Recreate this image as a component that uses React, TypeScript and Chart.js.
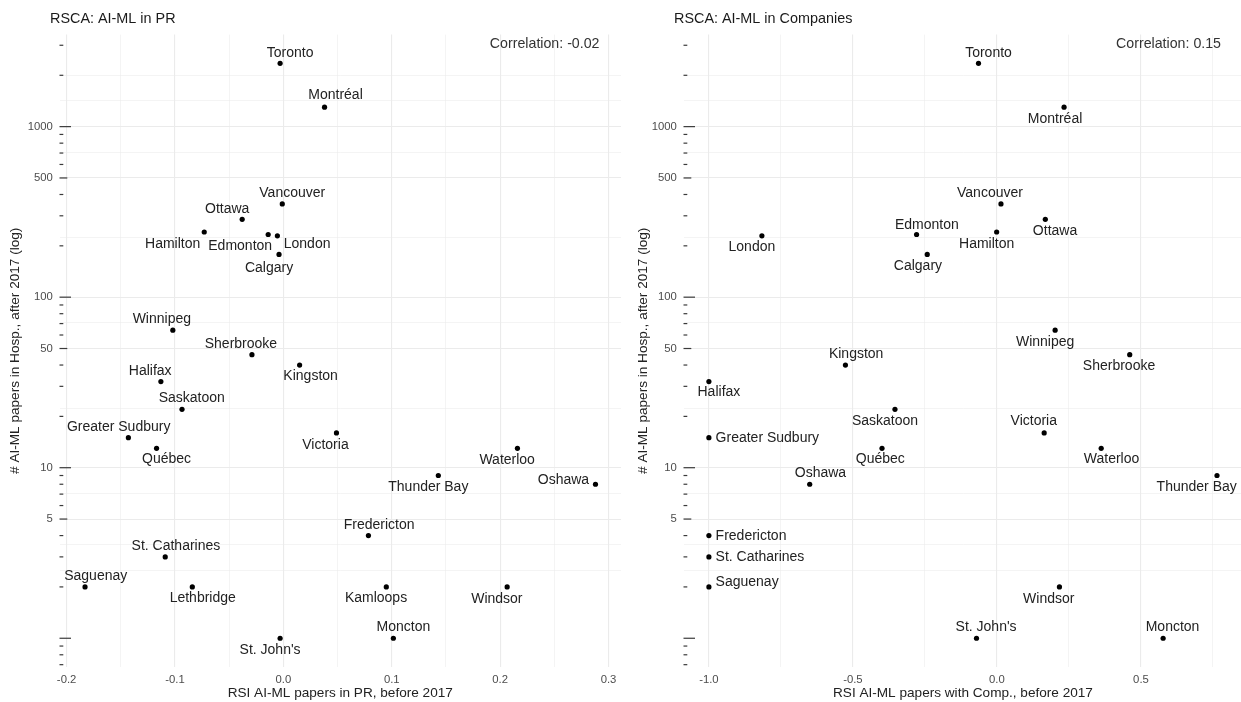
import React, { useEffect, useRef } from 'react';
import { Chart, registerables } from 'chart.js';

Chart.register(...registerables);

// ---------------- data ----------------
const cities = [
  'Toronto', 'Montréal', 'Vancouver', 'Ottawa', 'Hamilton', 'Edmonton', 'London', 'Calgary',
  'Winnipeg', 'Sherbrooke', 'Kingston', 'Halifax', 'Saskatoon', 'Greater Sudbury', 'Québec',
  'Victoria', 'Waterloo', 'Thunder Bay', 'Oshawa', 'Fredericton', 'Kamloops', 'Windsor',
  'Moncton', 'St. Catharines', 'Saguenay', 'Lethbridge', "St. John's",
];
const papersHospAfter2017 = [
  2350, 1300, 352, 286, 241, 233, 229, 178,
  64, 46, 40, 32, 22, 15, 13,
  16, 13, 9, 8, 4, 2, 2,
  1, 3, 2, 2, 1,
];
const rsiPRBefore2017 = [
  -0.003, 0.038, -0.001, -0.038, -0.073, -0.014, -0.0055, -0.004,
  -0.102, -0.029, 0.015, -0.113, -0.0935, -0.143, -0.117,
  0.049, 0.216, 0.143, 0.288, 0.0785, 0.095, 0.2065,
  0.1015, -0.109, -0.183, -0.084, -0.003,
];
const rsiCompBefore2017: (number | null)[] = [
  -0.064, 0.233, 0.014, 0.168, -0.001, -0.279, -0.816, -0.242,
  0.202, 0.461, -0.526, -1.0, -0.354, -1.0, -0.399,
  0.164, 0.362, 0.764, -0.65, -1.0, null, 0.217,
  0.577, -1.0, -1.0, null, -0.071,
];
const correlations = [-0.02, 0.15];
const yMajorBreaks = [5, 10, 50, 100, 500, 1000];
const yMinorBreaks = [2.5, 3.536, 7.071, 22.36, 70.71, 223.6, 707.1, 1414, 2000];
const xMajorPR = [-0.2, -0.1, 0.0, 0.1, 0.2, 0.3];
const xMinorPR = [-0.15, -0.05, 0.05, 0.15, 0.25];
const xMajorComp = [-1.0, -0.5, 0.0, 0.5];
const xMinorComp = [-0.75, -0.25, 0.25, 0.75];

// ---------------- label placement (layout, px offsets from point) ----------------
type Nudge = [number, number, ('center' | 'left')?];
const nudgePR: Record<string, Nudge> = {
  'Toronto': [10, -10], 'Montréal': [11, -11.6], 'Vancouver': [10, -11], 'Ottawa': [-15, -10],
  'Hamilton': [-31.6, 12.3], 'Edmonton': [-28, 12], 'London': [29.7, 8.3], 'Calgary': [-10, 13.4],
  'Winnipeg': [-11, -10.7], 'Sherbrooke': [-11, -10.7], 'Kingston': [11, 11], 'Halifax': [-10.7, -10.6],
  'Saskatoon': [9.7, -11], 'Greater Sudbury': [-9.7, -11], 'Québec': [10, 11], 'Victoria': [-11, 12],
  'Waterloo': [-10.3, 11.7], 'Thunder Bay': [-10, 11.7], 'Oshawa': [-32, -4.4], 'Fredericton': [10.7, -10.7],
  'Kamloops': [-10.3, 11], 'Windsor': [-10.3, 12.4], 'Moncton': [10, -10.7], 'St. Catharines': [10.7, -10.3],
  'Saguenay': [10.7, -10.3], 'Lethbridge': [10.4, 11], "St. John's": [-10, 11.7],
};
const nudgeComp: Record<string, Nudge> = {
  'Toronto': [10, -10], 'Montréal': [-9, 11.7], 'Vancouver': [-11, -10.7], 'Ottawa': [9.7, 11.7],
  'Hamilton': [-10, 11.7], 'Edmonton': [10.3, -9.7], 'Calgary': [-9.3, 11.4], 'London': [-10, 11.7],
  'Winnipeg': [-10, 12], 'Sherbrooke': [-10.7, 11.3], 'Kingston': [10.7, -10.7], 'Halifax': [10, 11],
  'Saskatoon': [-10, 11.7], 'Greater Sudbury': [6.7, 0.7, 'left'], 'Québec': [-1.7, 11],
  'Oshawa': [10.7, -11.4], 'Victoria': [-10.4, -11.6], 'Waterloo': [10.3, 11.3], 'Thunder Bay': [-20.3, 11.7],
  'Fredericton': [6.7, 0.7, 'left'], 'St. Catharines': [6.7, 0, 'left'], 'Saguenay': [6.7, -5, 'left'],
  'Windsor': [-10.7, 12.4], "St. John's": [9.6, -10.7], 'Moncton': [9.4, -10.7],
};

const FONT = '"Liberation Sans", Arial, Helvetica, sans-serif';

interface PanelDef {
  left: number;
  width: number;
  yAxisWidth: number;
  padRight: number;
  title: string;
  titleX: number;
  xTitle: string;
  yTitlePad: number;
  xs: (number | null)[];
  xMajor: number[];
  xMinor: number[];
  corr: number;
  nudge: Record<string, Nudge>;
}

const panels: PanelDef[] = [
  {
    left: 0, width: 630, yAxisWidth: 59.5, padRight: 9,
    title: 'RSCA: AI-ML in PR', titleX: 50,
    xTitle: 'RSI AI-ML papers in PR, before 2017', yTitlePad: 7.3,
    xs: rsiPRBefore2017, xMajor: xMajorPR, xMinor: xMinorPR, corr: correlations[0], nudge: nudgePR,
  },
  {
    left: 621, width: 624, yAxisWidth: 62.5, padRight: 0,
    title: 'RSCA: AI-ML in Companies', titleX: 53,
    xTitle: 'RSI AI-ML papers with Comp., before 2017', yTitlePad: 13.8,
    xs: rsiCompBefore2017, xMajor: xMajorComp, xMinor: xMinorComp, corr: correlations[1], nudge: nudgeComp,
  },
];

function buildConfig(p: PanelDef): any {
  const pts = cities
    .map((c, i) => ({ x: p.xs[i] as number, y: papersHospAfter2017[i], label: c }))
    .filter((d) => d.x !== null && d.x !== undefined);
  const xv = pts.map((d) => d.x);
  const lv = pts.map((d) => Math.log10(d.y));
  const xmin = Math.min(...xv), xmax = Math.max(...xv);
  const xr = xmax - xmin;
  const lmin = Math.min(...lv), lmax = Math.max(...lv);
  const lr = lmax - lmin;

  const xTicks = [...p.xMajor.map((v) => ({ value: v, isMajor: true })), ...p.xMinor.map((v) => ({ value: v, isMajor: false }))]
    .sort((a, b) => a.value - b.value);
  const yTicks = [...yMajorBreaks.map((v) => ({ value: v, isMajor: true })), ...yMinorBreaks.map((v) => ({ value: v, isMajor: false }))]
    .sort((a, b) => a.value - b.value);

  const gridCommon = {
    color: '#ebebeb',
    lineWidth: (ctx: any) => (ctx.tick && ctx.tick.isMajor ? 1.1 : 0.55),
    drawTicks: false,
  };

  const decorPlugin = {
    id: 'decor',
    afterDatasetsDraw(chart: any) {
      const ctx = chart.ctx as CanvasRenderingContext2D;
      const area = chart.chartArea;
      const ys = chart.scales.y;
      const xs = chart.scales.x;
      ctx.save();
      // log ticks inside panel
      ctx.strokeStyle = '#3a3a3a';
      ctx.lineWidth = 1.2;
      for (let k = -1; k <= 4; k++) {
        for (let m = 1; m <= 9; m++) {
          const v = m * Math.pow(10, k);
          if (v < ys.min || v > ys.max) continue;
          const py = ys.getPixelForValue(v);
          const len = m === 1 ? 11.5 : m === 5 ? 7.8 : 3.8;
          ctx.beginPath();
          ctx.moveTo(area.left, py);
          ctx.lineTo(area.left + len, py);
          ctx.stroke();
        }
      }
      // point labels
      const meta = chart.getDatasetMeta(0);
      ctx.fillStyle = '#222222';
      ctx.font = `14px ${FONT}`;
      ctx.textBaseline = 'middle';
      meta.data.forEach((el: any, i: number) => {
        const name = pts[i].label;
        const n = p.nudge[name] || [0, -10];
        ctx.textAlign = n[2] === 'left' ? 'left' : 'center';
        ctx.fillText(name, el.x + n[0], el.y + n[1]);
      });
      // correlation annotation
      ctx.textAlign = 'right';
      ctx.textBaseline = 'alphabetic';
      ctx.font = `14.2px ${FONT}`;
      ctx.fillStyle = '#333333';
      ctx.fillText(`Correlation: ${p.corr.toFixed(2)}`, xs.getPixelForValue(xmax) + 4, area.top + 13.1);
      // panel title
      ctx.textAlign = 'left';
      ctx.font = `14.4px ${FONT}`;
      ctx.fillStyle = '#1a1a1a';
      ctx.fillText(p.title, p.titleX, 23.3);
      ctx.restore();
    },
  };

  return {
    type: 'scatter',
    data: {
      datasets: [
        {
          data: pts.map((d) => ({ x: d.x, y: d.y })),
          backgroundColor: '#000000',
          borderWidth: 0,
          pointRadius: 2.6,
          pointHoverRadius: 2.6,
        },
      ],
    },
    options: {
      animation: false,
      responsive: false,
      devicePixelRatio: 1,
      events: [],
      layout: { padding: { left: 0, top: 34.6, right: p.padRight, bottom: 0 } },
      plugins: { legend: { display: false }, title: { display: false }, tooltip: { enabled: false } },
      scales: {
        x: {
          type: 'linear',
          bounds: 'data',
          min: xmin - 0.05 * xr,
          max: xmax + 0.05 * xr,
          afterBuildTicks: (scale: any) => { scale.ticks = xTicks.map((t) => ({ ...t })); },
          afterFit: (scale: any) => { scale.height = 35; },
          ticks: {
            autoSkip: false,
            maxRotation: 0,
            padding: 6.4,
            color: '#4d4d4d',
            font: { family: FONT, size: 11.3 },
            callback: (v: number, i: number, ticks: any[]) => (ticks[i] && ticks[i].isMajor ? v.toFixed(1) : ''),
          },
          grid: gridCommon,
          border: { display: false },
          title: {
            display: true,
            text: p.xTitle,
            color: '#222222',
            font: { family: FONT, size: 13.6 },
            padding: { top: 0, bottom: 0.9 },
          },
        },
        y: {
          type: 'logarithmic',
          bounds: 'data',
          min: Math.pow(10, lmin - 0.05 * lr),
          max: Math.pow(10, lmax + 0.05 * lr),
          afterBuildTicks: (scale: any) => { scale.ticks = yTicks.map((t) => ({ ...t })); },
          afterFit: (scale: any) => { scale.width = p.yAxisWidth; },
          ticks: {
            autoSkip: false,
            padding: 6.7,
            color: '#4d4d4d',
            font: { family: FONT, size: 11.3 },
            callback: (v: number, i: number, ticks: any[]) => (ticks[i] && ticks[i].isMajor ? String(v) : ''),
          },
          grid: gridCommon,
          border: { display: false },
          title: {
            display: true,
            text: '# AI-ML papers in Hosp., after 2017 (log)',
            color: '#222222',
            font: { family: FONT, size: 13.6 },
            padding: { top: p.yTitlePad, bottom: 0 },
          },
        },
      },
    },
    plugins: [decorPlugin],
  };
}

function Panel({ def }: { def: PanelDef }) {
  const ref = useRef<HTMLCanvasElement>(null);
  useEffect(() => {
    if (!ref.current) return;
    const chart = new Chart(ref.current, buildConfig(def));
    return () => chart.destroy();
  }, [def]);
  return (
    <canvas
      ref={ref}
      width={def.width}
      height={702}
      style={{ position: 'absolute', left: def.left, top: 0, width: def.width, height: 702 }}
    />
  );
}

export default function App() {
  return (
    <div
      style={{
        position: 'fixed', left: 0, top: 0, width: 1241, height: 702,
        overflow: 'hidden', background: '#ffffff',
      }}
    >
      {panels.map((p, i) => (
        <Panel key={i} def={p} />
      ))}
    </div>
  );
}
